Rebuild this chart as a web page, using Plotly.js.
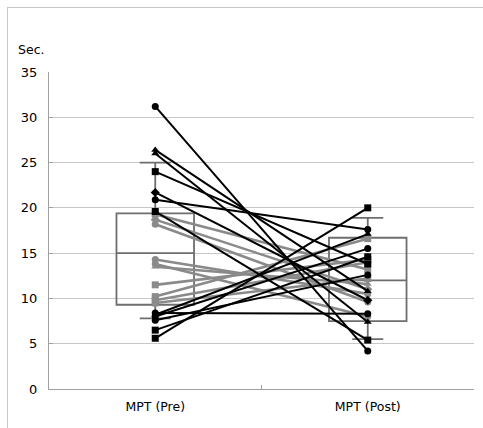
<!DOCTYPE html>
<html>
<head>
<meta charset="utf-8">
<script src="https://cdn.plot.ly/plotly-3.0.1.min.js"></script>
<style>
html,body{margin:0;padding:0;background:#fff;}
#frame{position:absolute;left:7px;top:7px;width:476px;height:421px;border-left:1px solid #c8c8c8;border-top:1px solid #c8c8c8;box-sizing:border-box;}
#chart{position:absolute;left:0;top:0;width:483px;height:428px;}
</style>
</head>
<body>
<div id="frame"></div>
<div id="chart"></div>
<script>
// categories
const categories = ['MPT (Pre)', 'MPT (Post)'];

// individual subjects (black lines)
const blackPre  = [31.2, 26.4, 26.0, 24.0, 21.7, 20.9, 19.6, 8.2, 8.0, 8.4, 7.6, 6.5, 5.6];
const blackPost = [4.2, 10.8, 7.4, 13.8, 9.8, 17.6, 5.4, 17.1, 15.5, 8.3, 12.6, 14.6, 20.0];
const blackSym  = ['circle','triangle-up','triangle-up','square','diamond','circle','square','triangle-up','circle','circle','circle','square','square'];

// individual subjects (gray lines)
const grayPre  = [19.3, 18.7, 18.2, 14.3, 13.8, 13.5, 11.5, 10.2, 9.8, 9.5];
const grayPost = [13.2, 11.0, 9.6, 10.5, 8.0, 11.6, 14.3, 16.6, 14.0, 12.2];
const graySym  = ['square','diamond','circle','circle','circle','triangle-up','square','square','square','square'];

// box summary statistics [Pre, Post]
const boxQ1     = [9.3, 7.5];
const boxMedian = [15.0, 12.0];
const boxQ3     = [19.4, 16.7];
const boxLow    = [7.8, 5.5];
const boxHigh   = [25.0, 18.9];

// y-axis ticks
const yTicks = [0, 5, 10, 15, 20, 25, 30, 35];

const traces = [];
traces.push({
  type: 'box',
  x: categories,
  q1: boxQ1, median: boxMedian, q3: boxQ3,
  lowerfence: boxLow, upperfence: boxHigh,
  width: 0.365,
  whiskerwidth: 0.4,
  line: {color: '#6e6e6e', width: 1.8},
  fillcolor: 'rgba(0,0,0,0)',
  boxpoints: false,
  hoverinfo: 'skip',
  showlegend: false
});
for (let i = 0; i < grayPre.length; i++) {
  traces.push({
    type: 'scatter', mode: 'lines+markers',
    x: categories, y: [grayPre[i], grayPost[i]],
    line: {color: '#8a8a8a', width: 2.6},
    marker: {color: '#8a8a8a', size: 7, symbol: graySym[i]},
    showlegend: false
  });
}
for (let i = 0; i < blackPre.length; i++) {
  traces.push({
    type: 'scatter', mode: 'lines+markers',
    x: categories, y: [blackPre[i], blackPost[i]],
    line: {color: '#000000', width: 2},
    marker: {color: '#000000', size: 7, symbol: blackSym[i]},
    showlegend: false
  });
}

const layout = {
  width: 483, height: 428,
  margin: {l: 49, r: 9, t: 72, b: 39},
  paper_bgcolor: 'rgba(0,0,0,0)',
  plot_bgcolor: 'rgba(0,0,0,0)',
  font: {family: 'DejaVu Sans, sans-serif', size: 12, color: '#000'},
  showlegend: false,
  xaxis: {
    type: 'category',
    range: [-0.5, 1.5],
    showline: true, linecolor: '#a0a0a0', linewidth: 1,
    ticks: 'inside', ticklen: 4, tickcolor: '#a0a0a0',
    tickson: 'boundaries',
    showgrid: false, zeroline: false,
    tickfont: {size: 12.5, family: 'DejaVu Sans, sans-serif'},
    ticklabelstandoff: 6
  },
  yaxis: {
    range: [0, 35],
    tickvals: yTicks,
    ticktext: yTicks.map(String),
    showline: true, linecolor: '#a0a0a0', linewidth: 1,
    ticks: 'inside', ticklen: 4, tickcolor: '#a0a0a0',
    showgrid: true, gridcolor: '#c8c8c8', gridwidth: 1.2,
    zeroline: false,
    tickfont: {size: 13, family: 'DejaVu Sans, sans-serif'},
    ticklabelstandoff: 8
  },
  annotations: [{
    text: 'Sec.', xref: 'paper', yref: 'paper',
    x: -0.077, y: 1.07, xanchor: 'left', yanchor: 'middle',
    showarrow: false, font: {size: 12.5, family: 'DejaVu Sans, sans-serif', color: '#000'}
  }]
};

Plotly.newPlot('chart', traces, layout, {displayModeBar: false, staticPlot: true});
</script>
</body>
</html>
